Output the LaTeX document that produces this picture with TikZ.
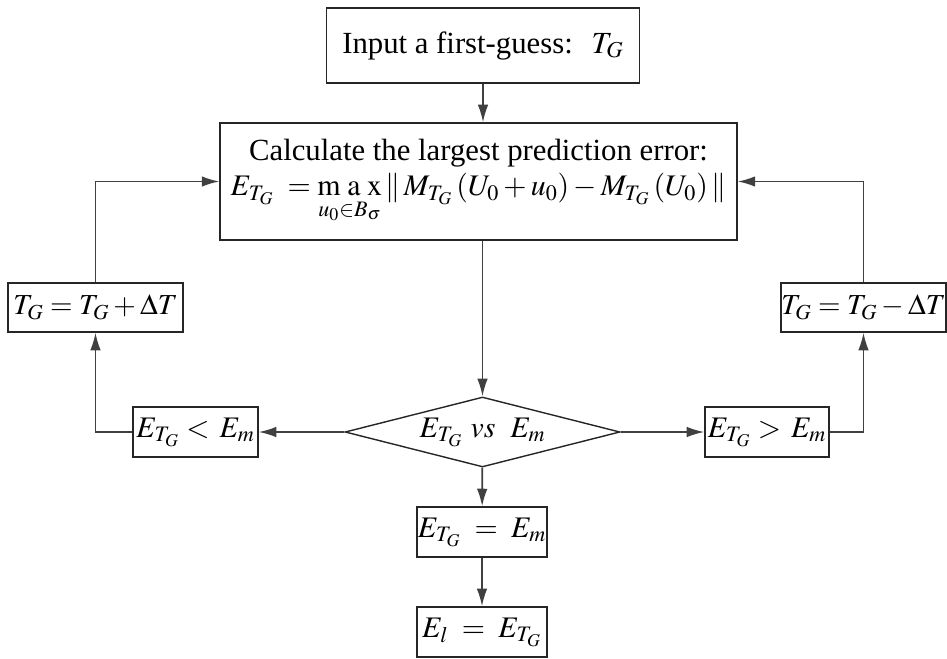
\documentclass[tikz,border=0pt]{standalone}
\usepackage{mathptmx}
\usepackage{fontspec}
\setmainfont{Liberation Serif}
\usetikzlibrary{shapes.geometric,arrows.meta}

\begin{document}
\begin{tikzpicture}[x=0.02cm, y=-0.02cm, >={Latex[length=10pt,width=6pt]},
        box/.style={draw=black!85, line width=0.8pt, inner sep=0pt, align=center,
            font=\fontsize{17}{20}\selectfont},
        flow/.style={->, draw=black!75, line width=1pt}]
    % ==== DEFINITIONS ====
    \def\midX{483} % x of the main column

    % ==== FRAME ====
    \useasboundingbox (0,0) rectangle (947,659);

    % ==== MAIN COLUMN ====
    \node[box, minimum width=6.26cm, minimum height=1.5cm, font=\fontsize{17.5}{21}\selectfont]
        (guess) at (\midX,45.5) {Input a first-guess:\; $T_G$};
    \node[box, minimum width=10.34cm, minimum height=2.34cm] (calc) at (478.5,181.5)
        {{\fontsize{17.5}{21}\selectfont Calculate the largest prediction error:}\\[0pt]
         $E_{T_G}\; = \mathop{\mathrm{m\;a\;x}}\limits_{\vphantom{A}u_0\in B_\sigma} \|\, M_{T_G}\,(U_0+u_0) - M_{T_G}\,(U_0)\,\|$};
    \node[box, shape=diamond, aspect=4, minimum width=5.5cm, minimum height=1.4cm]
        (cmp) at (482.5,432) {$E_{T_G}\ vs\ \ E_m$};
    \node[box, minimum width=2.6cm, minimum height=1cm] (equal) at (482,532) {$E_{T_G}\;=\;E_m$};
    \node[box, minimum width=2.6cm, minimum height=1cm] (final) at (482,632) {$E_l\;=\;E_{T_G}$};

    % ==== LEFT BRANCH ====
    \node[box, minimum width=2.5cm, minimum height=1cm] (less) at (195.5,432) {$E_{T_G} <\, E_m$};
    \node[box, minimum width=3.5cm, minimum height=0.98cm, font=\fontsize{16.5}{20}\selectfont]
        (plus) at (95.5,307.5) {$T_G = T_G + \Delta T$};

    % ==== RIGHT BRANCH ====
    \node[box, minimum width=2.48cm, minimum height=1cm] (more) at (767,432) {$E_{T_G} >\, E_m$};
    \node[box, minimum width=3.3cm, minimum height=0.98cm, font=\fontsize{16.5}{20}\selectfont]
        (minus) at (863.5,307.5) {$T_G = T_G - \Delta T$};

    % ==== CONNECTORS ====
    \draw[flow] (guess.south) -- (guess.south |- calc.north);
    \draw[flow] (calc.south -| cmp.north) -- (cmp.north);
    \draw[flow] (cmp) -- (equal);
    \draw[flow] (equal) -- (final);
    \draw[flow] (cmp.west) -- (less.east);
    \draw[flow] (cmp.east) -- (more.west);
    \draw[flow] (less.west) -| (plus.south);
    \draw[flow] (more.east) -| (minus.south);
    \draw[flow] (plus.north) |- (calc.west);
    \draw[flow] (minus.north) |- (calc.east);

\end{tikzpicture}
\end{document}
